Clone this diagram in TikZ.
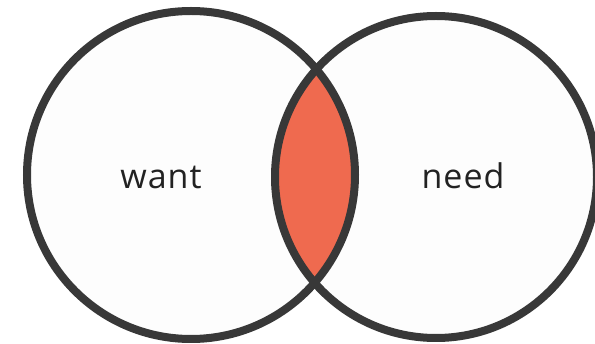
\documentclass[tikz,border=0pt]{standalone}
\usepackage{fontspec}
\setmainfont[LetterSpace=3]{Open Sans}
\usepackage{tikz}
\definecolor{figring}{HTML}{383838}
\definecolor{figlens}{HTML}{EF6A4F}
\definecolor{figpaper}{HTML}{FDFDFD}
\definecolor{figtext}{HTML}{222222}
\tikzset{every picture/.append style={font=\fontsize{34}{40}\selectfont}}
\tikzset{ring/.style={figring,line width=8pt},
  setlabel/.style={text=figtext,anchor=base,inner sep=0pt}}

\begin{document}
\begin{tikzpicture}[x=1pt,y=-1pt]
    \fill[white] (0,0) rectangle (595,344);
    \useasboundingbox (0,0) rectangle (595,344);
    \coordinate (wantc) at (191,175);
    \coordinate (needc) at (436,177);
    \fill[figpaper] (wantc) circle (164pt);
    \fill[figpaper] (needc) circle (161pt);
    % overlap of the two sets
    \begin{scope}
      \clip (wantc) circle (164pt);
      \fill[figlens] (needc) circle (161pt);
    \end{scope}
    \draw[ring] (wantc) circle (164pt);
    \draw[ring] (needc) circle (161pt);
    \node[setlabel] (want) at (161,189) {want};
    \node[setlabel] (need) at (463,189) {need};
  \end{tikzpicture}
\end{document}
